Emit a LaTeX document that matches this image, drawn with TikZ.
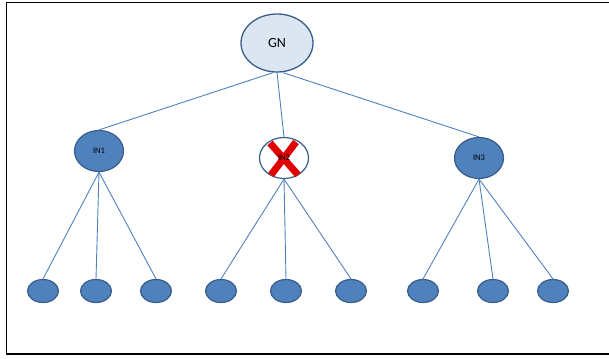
\documentclass[tikz,border=0pt]{standalone}
\usepackage{fontspec}
\setmainfont{Carlito}
\usetikzlibrary{shapes.geometric}
\definecolor{nodeblue}{HTML}{4F81BD}
\definecolor{edgeblue}{HTML}{385D8A}
\definecolor{paleblue}{HTML}{DCE6F2}
\definecolor{crossred}{HTML}{E00000}
\begin{document}
\begin{tikzpicture}[x=1pt,y=-1pt,
  root/.style={ellipse,draw=edgeblue,line width=1.3pt,fill=paleblue,
    minimum width=72pt,minimum height=58pt,inner sep=0pt,font=\fontsize{14}{14}\selectfont},
  inner/.style={ellipse,draw=edgeblue,line width=1.2pt,fill=nodeblue,
    minimum width=49pt,minimum height=41pt,inner sep=0pt,font=\fontsize{8.5}{8.5}\selectfont},
  failed/.style={inner,fill=white},
  leaf/.style={ellipse,draw=edgeblue,line width=1.2pt,fill=nodeblue,
    minimum width=31pt,minimum height=23pt,inner sep=0pt},
  link/.style={draw=nodeblue,line width=0.9pt}]
\useasboundingbox (0,0) rectangle (609,358);
\draw[line width=1.4pt] (6.5,2.5) rectangle (615,354);

% root and intermediate nodes
\node[root] (gn) at (277,43) {GN};
\node[inner] (in1) at (99,151) {IN1};
\node[failed] (in2) at (284,158) {};
\node[inner] (in3) at (479,158) {IN3};

% leaves
\foreach \i/\x in {1/43,2/96,3/156,4/221,5/286,6/351,7/423,8/493,9/553}
  \node[leaf] (l\i) at (\x,291) {};

% links from root
\draw[link] (gn.south) ++(-4,0) coordinate (gs1) (gs1) -- (in1.north);
\draw[link] (gn.south) -- (in2.north);
\draw[link] (gn.south) ++(6,0) coordinate (gs3) (gs3) -- (in3.north);

% links to leaves
\foreach \p/\a/\b/\c in {in1/1/2/3,in2/4/5/6,in3/7/8/9}{
  \draw[link] (\p.south) -- (l\a.north);
  \draw[link] (\p.south) -- (l\b.north);
  \draw[link] (\p.south) -- (l\c.north);
}

% failure mark on IN2
\draw[crossred,line width=7pt] (270,143) -- (298,175);
\draw[crossred,line width=7pt] (296,142) -- (271,175);
\node[font=\fontsize{8.5}{8.5}\selectfont] (in2label) at (in2) {IN2};
\end{tikzpicture}
\end{document}
